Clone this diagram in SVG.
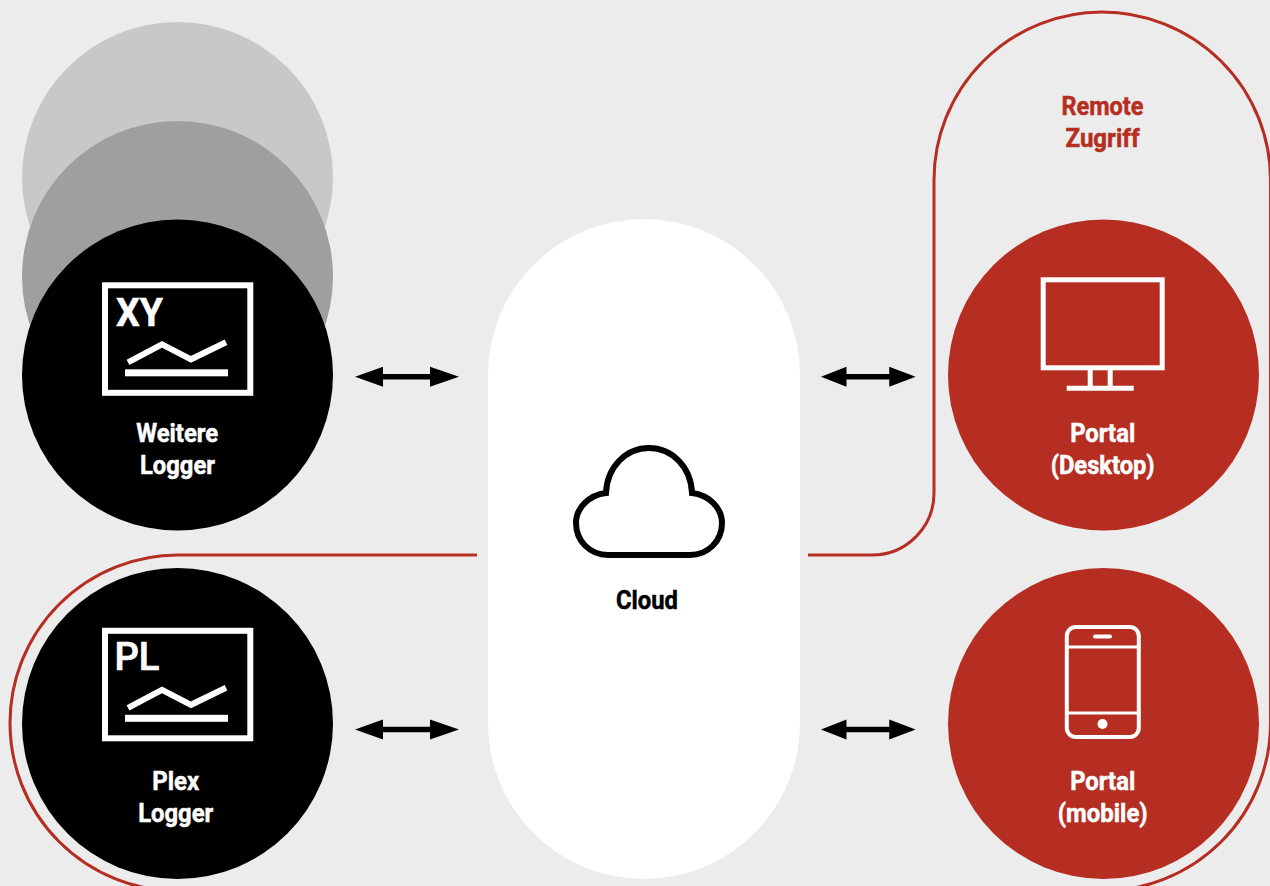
<svg xmlns="http://www.w3.org/2000/svg" width="1270" height="886" viewBox="0 0 1270 886">
<style>
.lbl{font-family:"Roboto","Liberation Sans",sans-serif;font-weight:700;font-size:26px;fill:#fff;stroke:#fff;stroke-width:.5px}
.blk{fill:#000;stroke:#000}
.rd{fill:#b52e21;stroke:#b52e21}
.dark{fill:#000}
.red{fill:#b52e21}
.ic{fill:none;stroke:#fff}
.wire{fill:none;stroke:#b52e21;stroke-width:3}
.arrow{fill:#000}
.mono{font-family:"Roboto","Liberation Sans",sans-serif;fill:#fff;font-size:38px}
</style>
<defs>
<g id="dbl"><path class="arrow" d="M0 0L28-10V-2.700H75V-10L104 0 75 10V2.700H28V10Z"/></g>
<g id="chart"><rect class="ic" x="105" y="0" width="145.300" height="107.500" stroke-width="6"/><path class="ic" stroke-width="6" d="M128 77L162 59 191 74 226 57"/><rect x="125" y="84" width="103" height="7" fill="#fff"/></g>
</defs>
<rect width="1270" height="886" fill="#ececec"/>
<g id="connectors">
<path class="wire" d="M477 555H178A168 168 0 0 0 10 723A168 168 0 0 0 178 891"/>
<path class="wire" d="M808 555H872A62 62 0 0 0 934 493V180A168 168 0 0 1 1102 12A168.500 168 0 0 1 1270.500 180V723A168.500 168 0 0 1 1102 891"/>
<use href="#dbl" x="355" y="376.700"/>
<use href="#dbl" x="355" y="729.500"/>
<use href="#dbl" transform="translate(821 376.700) scale(.91 1)"/>
<use href="#dbl" transform="translate(821 729.500) scale(.91 1)"/>
</g>
<g id="logger-back-2"><circle cx="177.500" cy="177.500" r="155.500" fill="#c8c8c8"/></g>
<g id="logger-back-1"><circle cx="177.500" cy="276.500" r="155.500" fill="#9f9f9f"/></g>
<g id="weitere-logger">
<circle class="dark" cx="177.500" cy="375" r="155.500"/>
<use href="#chart" y="285.300"/>
<text class="mono" x="116" y="326" font-weight="700" textLength="47" lengthAdjust="spacingAndGlyphs" stroke="#fff" stroke-width=".5">XY</text>
<text class="lbl" x="177.200" y="442" text-anchor="middle" textLength="82" lengthAdjust="spacingAndGlyphs">Weitere</text>
<text class="lbl" x="177.500" y="474" text-anchor="middle" textLength="75" lengthAdjust="spacingAndGlyphs">Logger</text>
</g>
<g id="plex-logger">
<circle class="dark" cx="177.500" cy="723.500" r="155.500"/>
<use href="#chart" y="630.800"/>
<text class="mono" x="114.500" y="670" font-weight="500" textLength="45" lengthAdjust="spacingAndGlyphs" stroke="#fff" stroke-width=".7">PL</text>
<text class="lbl" x="175.700" y="790" text-anchor="middle" textLength="47" lengthAdjust="spacingAndGlyphs">Plex</text>
<text class="lbl" x="175.700" y="822" text-anchor="middle" textLength="75" lengthAdjust="spacingAndGlyphs">Logger</text>
</g>
<g id="cloud">
<rect x="488" y="219" width="312" height="660" rx="156" ry="156" fill="#fff"/>
<path fill="none" stroke="#000" stroke-width="6" d="M606 493C607 467 626 448 649 448C672 448 691 467 692 493C709 495 722 508 722 523C722 541 708 555 690 555H608C590 555 576 541 576 523C576 508 589 495 606 493Z"/>
<text class="lbl blk" x="647" y="609" text-anchor="middle" textLength="62" lengthAdjust="spacingAndGlyphs">Cloud</text>
</g>
<g id="remote-label">
<text class="lbl rd" x="1102.500" y="115" text-anchor="middle" textLength="82" lengthAdjust="spacingAndGlyphs">Remote</text>
<text class="lbl rd" x="1102.500" y="147" text-anchor="middle" textLength="74" lengthAdjust="spacingAndGlyphs">Zugriff</text>
</g>
<g id="portal-desktop">
<circle class="red" cx="1103.500" cy="375" r="155.500"/>
<rect class="ic" x="1043.200" y="279.800" width="119" height="88" stroke-width="5"/>
<path class="ic" stroke-width="5" d="M1090.200 370V388M1110.200 370V388M1066.700 388.300H1133.700"/>
<text class="lbl" x="1102.700" y="442" text-anchor="middle" textLength="65" lengthAdjust="spacingAndGlyphs">Portal</text>
<text class="lbl" x="1102.700" y="474" text-anchor="middle" textLength="104" lengthAdjust="spacingAndGlyphs">(Desktop)</text>
</g>
<g id="portal-mobile">
<circle class="red" cx="1103.500" cy="723.500" r="155.500"/>
<rect class="ic" x="1066.800" y="627" width="72" height="110" rx="9" stroke-width="4"/>
<path class="ic" stroke-width="3" d="M1067 647H1139M1067 713H1139"/>
<path class="ic" stroke-width="4" stroke-linecap="round" d="M1095 636.500H1110"/>
<circle cx="1102.500" cy="724" r="5" fill="#fff"/>
<text class="lbl" x="1102.700" y="790" text-anchor="middle" textLength="65" lengthAdjust="spacingAndGlyphs">Portal</text>
<text class="lbl" x="1102.700" y="822" text-anchor="middle" textLength="90" lengthAdjust="spacingAndGlyphs">(mobile)</text>
</g>
</svg>
